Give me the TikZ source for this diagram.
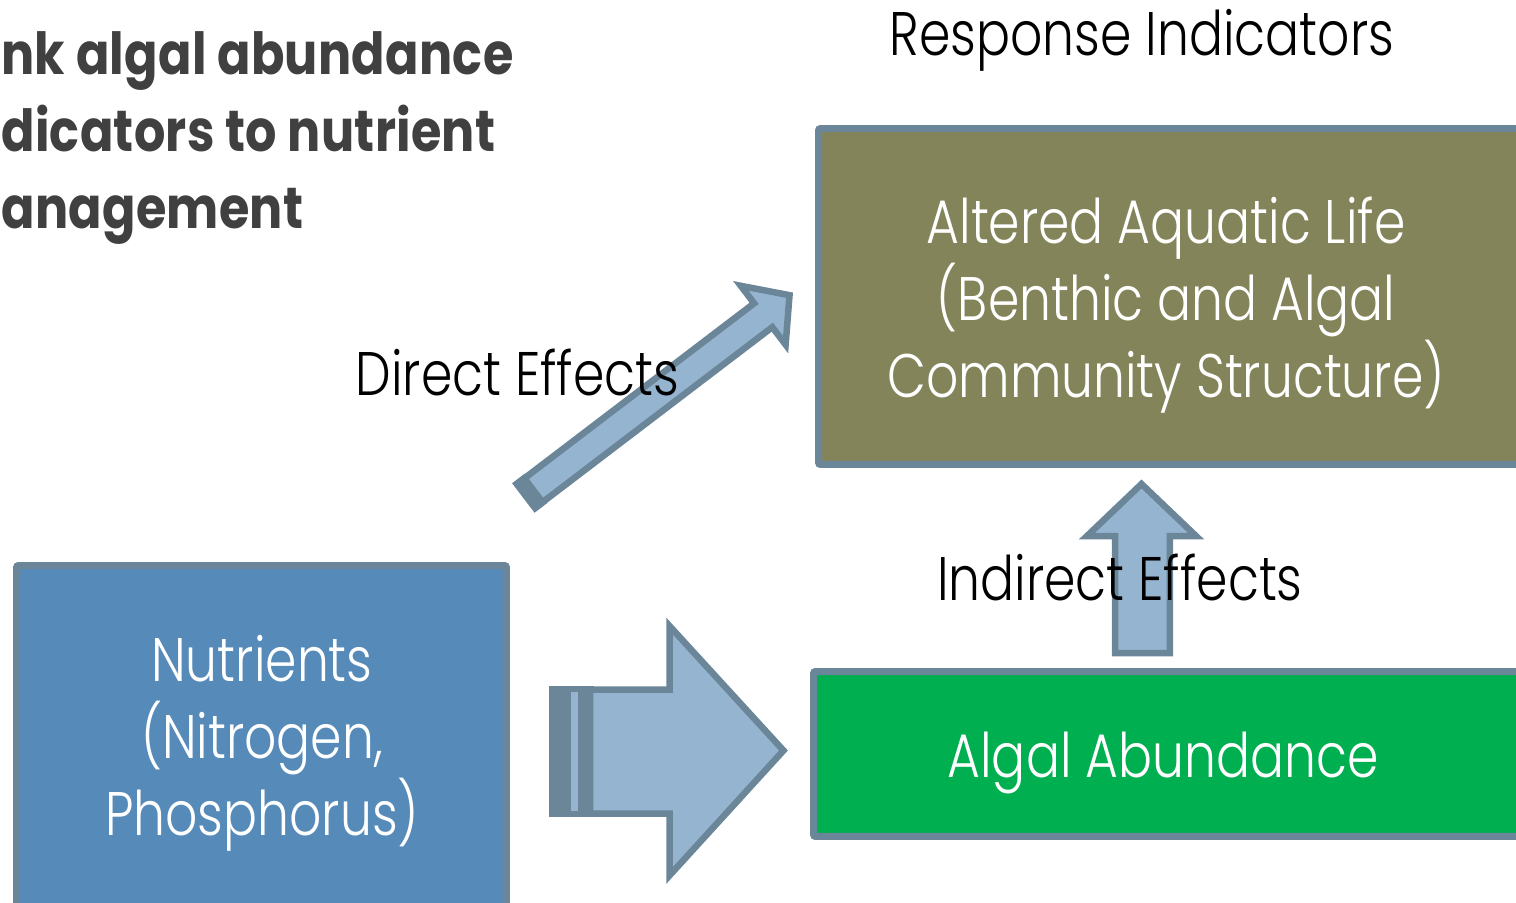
\documentclass[tikz,border=0pt]{standalone}
\usepackage{fontspec}
\newfontfamily\labelfont{Poppins Light}[FakeStretch=0.82]
\newfontfamily\headfont{Poppins}[FakeStretch=0.85, LetterSpace=0.5]
\definecolor{edgegray}{RGB}{107,133,153}
\definecolor{arrowfill}{RGB}{149,180,208}
\definecolor{olivebox}{RGB}{131,132,90}
\definecolor{nutrientblue}{RGB}{85,138,185}
\definecolor{algalgreen}{RGB}{0,175,80}
\definecolor{titlegray}{RGB}{64,64,64}
\tikzset{
  panel/.style={draw=edgegray, line width=0.14cm, rounded corners=0.04cm, inner sep=0pt},
  paneltext/.style={text=white, align=center, font=\labelfont\fontsize{35}{43.8}\selectfont},
  effect/.style={text=black, font=\labelfont\fontsize{35}{43.8}\selectfont},
  blockarrow/.style={draw=edgegray, fill=arrowfill, line width=0.13cm, line join=miter},
}
\begin{document}
\begin{tikzpicture}[x=0.02cm,y=-0.02cm]
\tikzstyle{every node}+=[inner sep=0pt]
\useasboundingbox (0,0) rectangle (1516,903);
\clip (0,0) rectangle (1516,903);
\node [anchor=base west, align=left, text=titlegray, font=\headfont\bfseries\fontsize{33}{43.8}\selectfont] (title) at (1,228) {nk algal abundance\\dicators to nutrient\\anagement};
\node [effect, anchor=base] (header) at (1142,55) {Response Indicators};
\node [panel, fill=olivebox, minimum width=14.13cm, minimum height=6.72cm] (aquatic) at (1171.75,296.5) {};
\node [paneltext, anchor=base] (aquatictext) at (1166,397) {Altered Aquatic Life\\(Benthic and Algal\\Community Structure)};
\node [panel, fill=nutrientblue, minimum width=9.8cm, minimum height=6.89cm] (nutrients) at (261.5,737.75) {};
\node [paneltext, anchor=base] (nutrientstext) at (262,835) {Nutrients\\(Nitrogen,\\Phosphorus)};
\node [panel, fill=algalgreen, minimum width=14.23cm, minimum height=3.3cm] (algae) at (1169.25,754) {};
\node [paneltext, anchor=base] (algaetext) at (1163,777) {Algal Abundance};
% direct effects arrow
\begin{scope}[shift={(523.3,498)}, rotate=37.3]
\draw [blockarrow] (4,-15) -- (301.6,-15) -- (301.6,-37) -- (334.7,0) -- (301.6,37) -- (301.6,15) -- (4,15) -- cycle;
\fill [edgegray] (0,-18.5) rectangle (16,18.5);
\end{scope}
% striped arrow
\fill [edgegray] (549,686) rectangle (594,817);
\fill [arrowfill] (571,692) rectangle (578,811);
\draw [blockarrow] (590,689.5) -- (669.5,689.5) -- (669.5,626) -- (783.5,750.5) -- (669.5,875.5) -- (669.5,813.5) -- (590,813.5) -- cycle;
% indirect effects arrow
\draw [blockarrow] (1115.2,653.2) -- (1115.2,536) -- (1087,536) -- (1141.5,484) -- (1196,536) -- (1169.8,536) -- (1169.8,653.2) -- cycle;
\node [effect, anchor=base] (direct) at (517.5,395) {Direct Effects};
\node [effect, anchor=base] (indirect) at (1120,600) {Indirect Effects};
\end{tikzpicture}
\end{document}
